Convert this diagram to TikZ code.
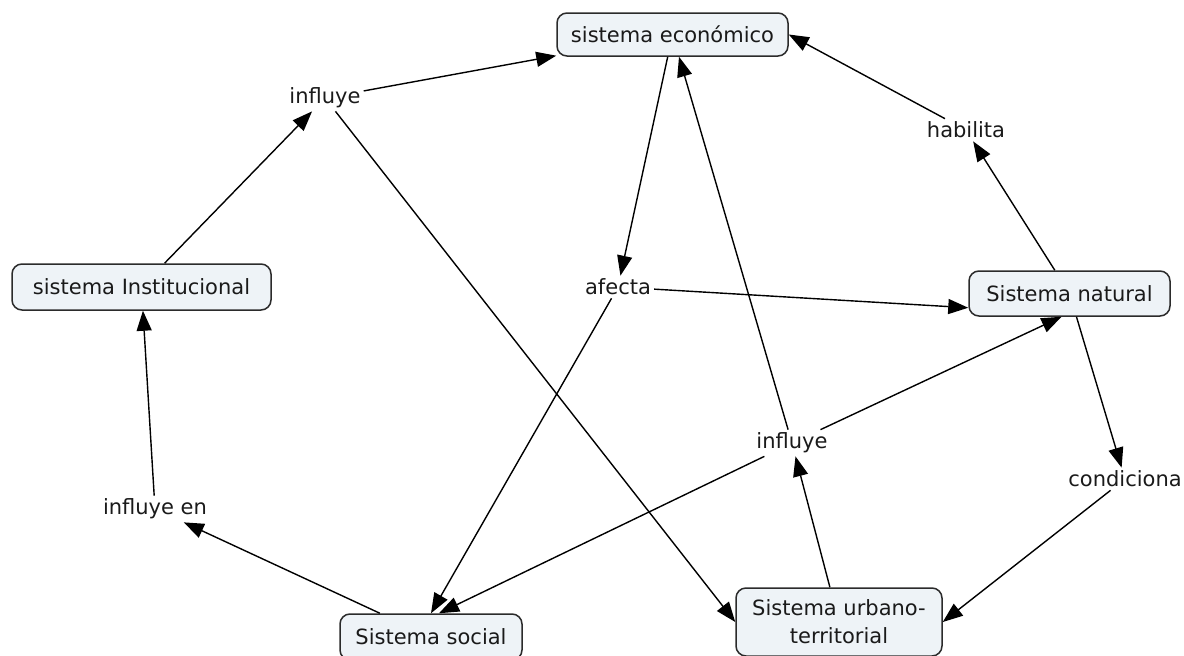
\documentclass[tikz,border=0pt]{standalone}
\usepackage{fontspec}
\setmainfont{DejaVu Sans}
\usetikzlibrary{arrows.meta}
\definecolor{boxfill}{HTML}{EEF3F7}
\definecolor{boxline}{HTML}{2B2B2B}
\definecolor{ink}{HTML}{1A1A1A}
\begin{document}
\begin{tikzpicture}[x=1pt,y=-1pt,
  concept/.style={draw=boxline, line width=1.5pt, fill=boxfill, rounded corners=10pt,
    inner sep=0pt, text=ink, font=\fontsize{21}{28}\selectfont, align=center},
  linkword/.style={inner sep=3pt, text=ink, font=\fontsize{21}{24}\selectfont},
  conn/.style={line width=1.4pt, draw=black, -{Triangle[length=20pt,width=15pt]}}]
\useasboundingbox (0,0) rectangle (1184,656);
\clip (0,0) rectangle (1184,656);

% concepts
\node[concept, minimum width=231pt, minimum height=43pt] (econ) at (672.5,34.5) {sistema económico};
\node[concept, minimum width=259pt, minimum height=46pt] (inst) at (141.5,287) {sistema Institucional};
\node[concept, minimum width=201pt, minimum height=45pt] (nat) at (1069.5,293.5) {Sistema natural};
\node[concept, minimum width=182pt, minimum height=46pt] (social) at (431,637) {Sistema social};
\node[concept, minimum width=206pt, minimum height=68pt] (urb) at (839,622) {Sistema urbano-\\territorial};

% linking words
\node[linkword] (infl1) at (325,98) {influye};
\node[linkword] (hab) at (966,130) {habilita};
\node[linkword] (afe) at (618,287) {afecta};
\node[linkword] (infl2) at (792,443) {influye};
\node[linkword] (cond) at (1125,479) {condiciona};
\node[linkword] (inflen) at (155,509) {influye en};

% propositions
\draw[conn] (inst) -- (infl1);
\draw[conn] (infl1) -- (econ);
\draw[conn] (infl1) -- (urb.west);
\draw[conn] (econ) -- (afe);
\draw[conn] (afe) -- ([yshift=9pt]nat.south west);
\draw[conn] (afe) -- (social.north);
\draw[conn] (nat) -- (hab);
\draw[conn] (hab) -- (econ.east);
\draw[conn] (nat) -- (cond);
\draw[conn] (cond) -- (urb.east);
\draw[conn] (urb) -- (infl2);
\draw[conn] (infl2) -- (econ);
\draw[conn] (infl2) -- ([xshift=-8pt]nat.south);
\draw[conn] (infl2) -- ([xshift=8pt]social.north);
\draw[conn] (social) -- (inflen);
\draw[conn] (inflen) -- (inst);
\end{tikzpicture}
\end{document}
